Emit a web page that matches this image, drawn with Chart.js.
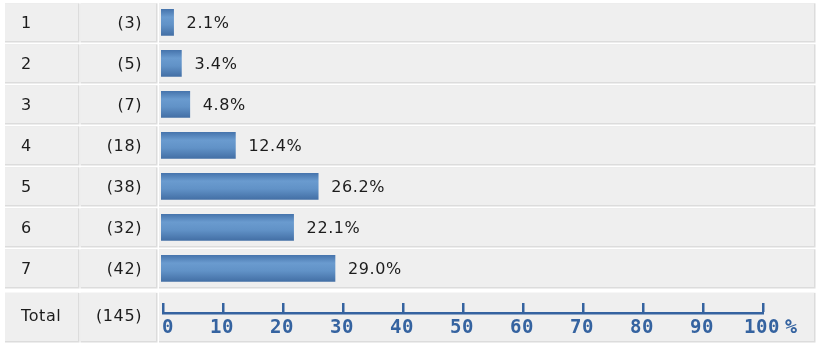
<!DOCTYPE html>
<html>
<head>
<meta charset="utf-8">
<script src="https://cdn.jsdelivr.net/npm/chart.js@4.4.1/dist/chart.umd.min.js"></script>
<style>
  html,body{margin:0;padding:0;background:#fff;}
  #c{display:block;}
</style>
</head>
<body>
<canvas id="c" width="817" height="344"></canvas>
<script>
/* answer rows: label, count, percent */
var CATEGORIES=['1','2','3','4','5','6','7'];
var COUNTS=[3,5,7,18,38,32,42];
var PERCENTS=[2.1,3.4,4.8,12.4,26.2,22.1,29.0];
var TOTAL_LABEL='Total';
var TOTAL_COUNT=145;
var TICKS=[0,10,20,30,40,50,60,70,80,90,100];

var CELL_BG='#efefef', CELL_EDGE='#dcdcdc', TEXT='#1c1c1c', AXIS='#3563a0';
var COLS=[[5,78],[80.5,156],[159,814]];   // cell x spans (fill + edge)

function cellRow(ctx,top,bottom){
  COLS.forEach(function(c){
    ctx.fillStyle=CELL_EDGE;
    ctx.fillRect(c[0],top,c[1]-c[0]+1.5,bottom-top+1.5);
    ctx.fillStyle=CELL_BG;
    ctx.fillRect(c[0],top,c[1]-c[0],bottom-top);
  });
}

var tablePlugin={
  id:'table',
  beforeDatasetsDraw:function(chart){
    var ctx=chart.ctx,y=chart.scales.y;
    var step=(chart.chartArea.bottom-chart.chartArea.top)/CATEGORIES.length;
    ctx.save();
    CATEGORIES.forEach(function(_,i){
      var cy=y.getPixelForValue(i);
      cellRow(ctx,cy-step/2+1.5,cy+step/2-1.8);
    });
    // total row
    cellRow(ctx,chart.chartArea.bottom+4,341);
    ctx.restore();
  },
  afterDatasetsDraw:function(chart){
    var ctx=chart.ctx,x=chart.scales.x,y=chart.scales.y;
    ctx.save();
    ctx.font='16px "DejaVu Sans"';
    ctx.letterSpacing='0.6px';
    ctx.fillStyle=TEXT;
    ctx.textBaseline='middle';
    CATEGORIES.forEach(function(lab,i){
      var cy=y.getPixelForValue(i)+1.5;
      ctx.textAlign='left';
      ctx.fillText(lab,21,cy);
      ctx.textAlign='right';
      ctx.fillText('('+COUNTS[i]+')',142,cy);
      ctx.textAlign='left';
      ctx.fillText(PERCENTS[i].toFixed(1)+'%',x.getPixelForValue(PERCENTS[i])+13,cy);
    });
    var ty=317;
    ctx.textAlign='left';
    ctx.fillText(TOTAL_LABEL,21,ty);
    ctx.textAlign='right';
    ctx.fillText('('+TOTAL_COUNT+')',142,ty);

    // percent axis
    var ay=312;
    var x0=x.getPixelForValue(TICKS[0]),x1=x.getPixelForValue(TICKS[TICKS.length-1]);
    ctx.fillStyle=AXIS;
    ctx.fillRect(x0+1,ay,x1-x0+2,2.5);
    ctx.font='bold 19px "DejaVu Sans Mono"';
    ctx.letterSpacing='0.5px';
    ctx.textBaseline='alphabetic';
    TICKS.forEach(function(t,i){
      var px=x.getPixelForValue(t);
      ctx.fillRect(px+1,ay-9,2.5,9);
      ctx.textAlign=i===0?'left':'center';
      ctx.fillText(String(t),px+1,333);
    });
    ctx.textAlign='left';
    ctx.font='bold 20px "DejaVu Sans Mono"';
    ctx.fillText('%',x1+24,333);
    ctx.restore();
  }
};

var ctx=document.getElementById('c');
new Chart(ctx,{
  type:'bar',
  data:{
    labels:CATEGORIES,
    datasets:[{
      data:PERCENTS,
      barThickness:26,
      borderWidth:0,
      backgroundColor:function(c){
        var chart=c.chart,sy=chart.scales&&chart.scales.y;
        var cy=sy&&c.dataIndex!==undefined?sy.getPixelForValue(c.dataIndex):NaN;
        if(!isFinite(cy)) return '#5f8fc4';
        var g=chart.ctx.createLinearGradient(0,cy-13,0,cy+13);
        g.addColorStop(0,'#4775ad');
        g.addColorStop(0.3,'#6a9bcf');
        g.addColorStop(0.6,'#6192c7');
        g.addColorStop(1,'#4470a6');
        return g;
      }
    }]
  },
  options:{
    indexAxis:'y',
    responsive:false,
    animation:false,
    devicePixelRatio:1,
    layout:{padding:{left:161,right:56,top:1.8,bottom:55.2}},
    scales:{
      x:{display:false,min:0,max:100},
      y:{display:false}
    },
    plugins:{legend:{display:false},tooltip:{enabled:false}}
  },
  plugins:[tablePlugin]
});
</script>
</body>
</html>
